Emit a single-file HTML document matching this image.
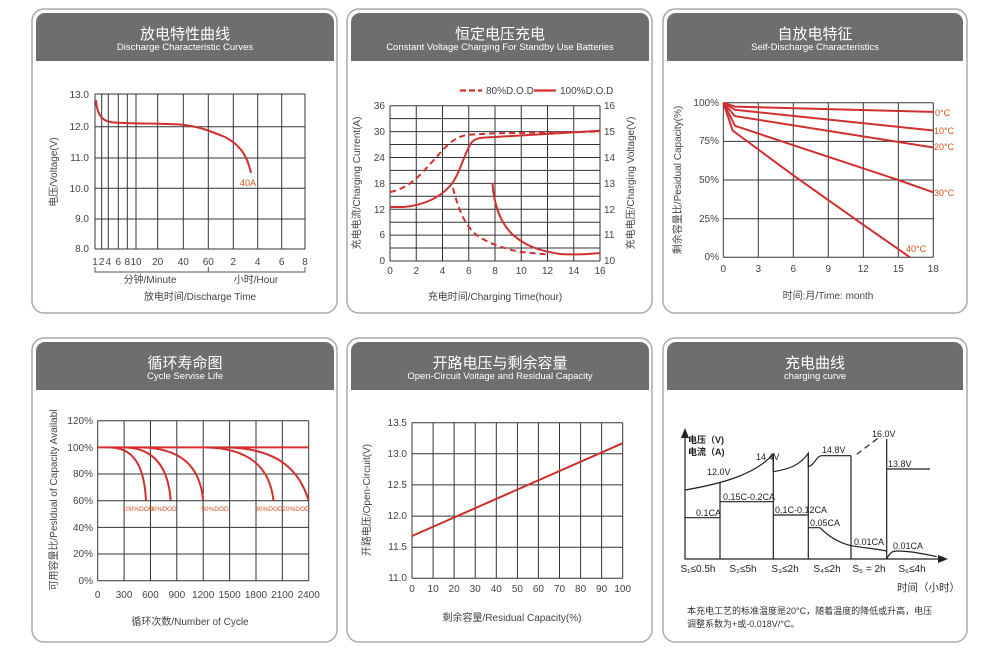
<!DOCTYPE html>
<html><head><meta charset="utf-8"><style>
html,body{margin:0;padding:0;background:#fff;}
svg{display:block;font-family:"Liberation Sans","Noto Sans CJK SC",sans-serif;}
.t{font-size:10px;fill:#444;}
.h1{font-size:15px;fill:#fff;}
.h2{font-size:9.5px;fill:#fff;}
.g line{stroke:#333;stroke-width:1;}
.g2 line{stroke:#999;stroke-width:1;}
.r{fill:none;stroke:#d03030;stroke-width:2;}
.k{fill:none;stroke:#222;stroke-width:1.2;}
.s{font-size:9px;fill:#222;}
</style></head><body>
<svg width="1000" height="664" viewBox="0 0 1000 664">
<!-- panels -->
<g fill="#fff" stroke="#aaa" stroke-width="1.5">
<rect x="32" y="9" width="305" height="304" rx="12"/>
<rect x="347" y="9" width="305" height="304" rx="12"/>
<rect x="663" y="9" width="304" height="304" rx="12"/>
<rect x="32" y="338" width="305" height="304" rx="12"/>
<rect x="347" y="338" width="305" height="304" rx="12"/>
<rect x="663" y="338" width="304" height="304" rx="12"/>
</g>
<g fill="#6e6e6e">
<path d="M36,22 a9,9 0 0 1 9,-9 H325 a9,9 0 0 1 9,9 V61 H36Z"/>
<path d="M351,22 a9,9 0 0 1 9,-9 H640 a9,9 0 0 1 9,9 V61 H351Z"/>
<path d="M667,22 a9,9 0 0 1 9,-9 H954 a9,9 0 0 1 9,9 V61 H667Z"/>
<path d="M36,351 a9,9 0 0 1 9,-9 H325 a9,9 0 0 1 9,9 V390 H36Z"/>
<path d="M351,351 a9,9 0 0 1 9,-9 H640 a9,9 0 0 1 9,9 V390 H351Z"/>
<path d="M667,351 a9,9 0 0 1 9,-9 H954 a9,9 0 0 1 9,9 V390 H667Z"/>
</g>
<g text-anchor="middle">
<text class="h1" x="185" y="39">放电特性曲线</text><text class="h2" x="185" y="50">Discharge Characteristic Curves</text>
<text class="h1" x="500" y="39">恒定电压充电</text><text class="h2" x="500" y="50">Constant Voltage Charging For Standby Use Batteries</text>
<text class="h1" x="815" y="39">自放电特征</text><text class="h2" x="815" y="50">Self-Discharge Characteristics</text>
<text class="h1" x="185" y="368">循环寿命图</text><text class="h2" x="185" y="379">Cycle Servise Life</text>
<text class="h1" x="500" y="368">开路电压与剩余容量</text><text class="h2" x="500" y="379">Open-Circuit Voitage and Residual Capacity</text>
<text class="h1" x="815" y="368">充电曲线</text><text class="h2" x="815" y="379">charging curve</text>
</g>

<!-- Panel 1 -->
<g class="g">
<line x1="95" y1="94" x2="305" y2="94"/><line x1="95" y1="126.7" x2="305" y2="126.7"/><line x1="95" y1="158" x2="305" y2="158"/><line x1="95" y1="188.3" x2="305" y2="188.3"/><line x1="95" y1="219" x2="305" y2="219"/><line x1="95" y1="249" x2="305" y2="249"/>
<line x1="95" y1="94" x2="95" y2="249"/><line x1="101.7" y1="94" x2="101.7" y2="249"/><line x1="108.3" y1="94" x2="108.3" y2="249"/><line x1="118.3" y1="94" x2="118.3" y2="249"/><line x1="127.3" y1="94" x2="127.3" y2="249"/><line x1="136" y1="94" x2="136" y2="249"/><line x1="157.7" y1="94" x2="157.7" y2="249"/><line x1="183.3" y1="94" x2="183.3" y2="249"/><line x1="208.3" y1="94" x2="208.3" y2="249"/><line x1="233.3" y1="94" x2="233.3" y2="249"/><line x1="257.7" y1="94" x2="257.7" y2="249"/><line x1="281.7" y1="94" x2="281.7" y2="249"/><line x1="305" y1="94" x2="305" y2="249"/>
</g>
<path class="r" stroke="#b83030" d="M96,100 C97,112 100,120 110,122 C120,124 170,123 185,125 C200,127 210,131 225,137 C240,145 247,155 251,173"/>
<text x="240" y="186" font-size="9" fill="#d05020">40A</text>
<g class="t" text-anchor="end"><text x="89" y="98">13.0</text><text x="89" y="130">12.0</text><text x="89" y="161">11.0</text><text x="89" y="192">10.0</text><text x="89" y="222">9.0</text><text x="89" y="252">8.0</text></g>
<g class="t" text-anchor="middle" font-size="9.5"><text x="95" y="265">1</text><text x="101.7" y="265">2</text><text x="108.3" y="265">4</text><text x="118.3" y="265">6</text><text x="127.3" y="265">8</text><text x="136" y="265">10</text><text x="157.7" y="265">20</text><text x="183.3" y="265">40</text><text x="208.3" y="265">60</text><text x="233.3" y="265">2</text><text x="257.7" y="265">4</text><text x="281.7" y="265">6</text><text x="305" y="265">8</text></g>
<path d="M95,267 V272 H305 V267 M208.3,267 V272" fill="none" stroke="#555"/>
<text class="t" x="150" y="283" text-anchor="middle" font-size="9.5">分钟/Minute</text>
<text class="t" x="256" y="283" text-anchor="middle" font-size="9.5">小时/Hour</text>
<text class="t" x="200" y="300" text-anchor="middle">放电时间/Discharge Time</text>
<text class="t" transform="translate(57,172) rotate(-90)" text-anchor="middle" font-size="9.5">电压/Voltage(V)</text>

<!-- Panel 2 -->
<g class="g">
<line x1="390" y1="105.7" x2="600" y2="105.7"/><line x1="390" y1="118.6" x2="600" y2="118.6"/><line x1="390" y1="131.6" x2="600" y2="131.6"/><line x1="390" y1="144.5" x2="600" y2="144.5"/><line x1="390" y1="157.5" x2="600" y2="157.5"/><line x1="390" y1="170.4" x2="600" y2="170.4"/><line x1="390" y1="183.4" x2="600" y2="183.4"/><line x1="390" y1="196.3" x2="600" y2="196.3"/><line x1="390" y1="209.2" x2="600" y2="209.2"/><line x1="390" y1="222.2" x2="600" y2="222.2"/><line x1="390" y1="235.1" x2="600" y2="235.1"/><line x1="390" y1="248" x2="600" y2="248"/><line x1="390" y1="261" x2="600" y2="261"/>
<line x1="390" y1="105.7" x2="390" y2="261"/><line x1="416.25" y1="105.7" x2="416.25" y2="261"/><line x1="442.5" y1="105.7" x2="442.5" y2="261"/><line x1="468.75" y1="105.7" x2="468.75" y2="261"/><line x1="495" y1="105.7" x2="495" y2="261"/><line x1="521.25" y1="105.7" x2="521.25" y2="261"/><line x1="547.5" y1="105.7" x2="547.5" y2="261"/><line x1="573.75" y1="105.7" x2="573.75" y2="261"/><line x1="600" y1="105.7" x2="600" y2="261"/>
</g>
<path class="r" stroke-dasharray="6,4" d="M390,192 C410,188 420,175 432,162 S452,137 468,134.8 L495,133.3 L600,131.6"/>
<path class="r" d="M390,207 L404,207 C425,205 440,197 450,186 C460,175 465,150 472,142 C476,138 480,137.5 495,137 L600,130.7"/>
<path class="r" stroke-dasharray="6,4" d="M453,188 C458,208 465,227 478,236 C490,244 505,249 521,252 L548,254.5"/>
<path class="r" d="M492.4,183 C494,205 500,222 512,234 C525,246 540,251 560,254 C575,255 590,254 600,253"/>
<line x1="460" y1="90.5" x2="482" y2="90.5" stroke="#d03030" stroke-width="2.2" stroke-dasharray="6,3"/>
<text class="t" x="486" y="94" font-size="9">80%D.O.D</text>
<line x1="534" y1="90.5" x2="556" y2="90.5" stroke="#d03030" stroke-width="2.2"/>
<text class="t" x="560" y="94" font-size="9">100%D.O.D</text>
<g class="t" text-anchor="end" font-size="9.5"><text x="385" y="109">36</text><text x="385" y="135">30</text><text x="385" y="161">24</text><text x="385" y="187">18</text><text x="385" y="213">12</text><text x="385" y="238">6</text><text x="385" y="264">0</text></g>
<g class="t" font-size="9.5"><text x="604" y="109">16</text><text x="604" y="135">15</text><text x="604" y="161">14</text><text x="604" y="187">13</text><text x="604" y="213">12</text><text x="604" y="238">11</text><text x="604" y="264">10</text></g>
<g class="t" text-anchor="middle" font-size="9.5"><text x="390" y="274">0</text><text x="416.25" y="274">2</text><text x="442.5" y="274">4</text><text x="468.75" y="274">6</text><text x="495" y="274">8</text><text x="521.25" y="274">10</text><text x="547.5" y="274">12</text><text x="573.75" y="274">14</text><text x="600" y="274">16</text></g>
<text class="t" x="495" y="300" text-anchor="middle" font-size="9.5">充电时间/Charging Time(hour)</text>
<text class="t" transform="translate(360,183) rotate(-90)" text-anchor="middle" font-size="9.5">充电电流/Charging Current(A)</text>
<text class="t" transform="translate(634,183) rotate(-90)" text-anchor="middle" font-size="9.5">充电电压/Charging Voltage(V)</text>

<!-- Panel 3 -->
<g class="g">
<line x1="723.3" y1="102.7" x2="933.3" y2="102.7"/><line x1="723.3" y1="141.4" x2="933.3" y2="141.4"/><line x1="723.3" y1="180" x2="933.3" y2="180"/><line x1="723.3" y1="218.7" x2="933.3" y2="218.7"/><line x1="723.3" y1="257.3" x2="933.3" y2="257.3"/>
<line x1="723.3" y1="102.7" x2="723.3" y2="257.3"/><line x1="758.3" y1="102.7" x2="758.3" y2="257.3"/><line x1="793.3" y1="102.7" x2="793.3" y2="257.3"/><line x1="828.3" y1="102.7" x2="828.3" y2="257.3"/><line x1="863.3" y1="102.7" x2="863.3" y2="257.3"/><line x1="898.3" y1="102.7" x2="898.3" y2="257.3"/><line x1="933.3" y1="102.7" x2="933.3" y2="257.3"/>
</g>
<g class="r" stroke="#d83030">
<polyline points="723.3,102.7 735,106.6 933.3,111.9"/>
<polyline points="723.3,102.7 735,109.8 933.3,130.5"/>
<polyline points="723.3,102.7 735,116.1 933.3,147.5"/>
<polyline points="723.3,102.7 735,125.8 828.3,156.8 898.3,180 933.3,192.3"/>
<polyline points="723.3,102.7 732.6,130.5 793.3,175.3 863.3,224.8 910,257.3"/>
</g>
<g font-size="9" fill="#d05020"><text x="935" y="116">0°C</text><text x="934" y="134">10°C</text><text x="934" y="150">20°C</text><text x="934" y="196">30°C</text><text x="906" y="252">40°C</text></g>
<g class="t" text-anchor="end" font-size="9"><text x="719" y="106">100%</text><text x="719" y="144">75%</text><text x="719" y="183">50%</text><text x="719" y="222">25%</text><text x="719" y="260">0%</text></g>
<g class="t" text-anchor="middle" font-size="9.5"><text x="723.3" y="272">0</text><text x="758.3" y="272">3</text><text x="793.3" y="272">6</text><text x="828.3" y="272">9</text><text x="863.3" y="272">12</text><text x="898.3" y="272">15</text><text x="933.3" y="272">18</text></g>
<text class="t" x="828" y="299" text-anchor="middle" font-size="9.5">时间:月/Time: month</text>
<text class="t" transform="translate(681,180) rotate(-90)" text-anchor="middle" font-size="9.5">剩余容量比/Pesidual Capacity(%)</text>

<!-- Panel 4 -->
<g class="g">
<line x1="97.7" y1="420.7" x2="308.7" y2="420.7"/><line x1="97.7" y1="447.4" x2="308.7" y2="447.4"/><line x1="97.7" y1="474" x2="308.7" y2="474"/><line x1="97.7" y1="500.7" x2="308.7" y2="500.7"/><line x1="97.7" y1="527.4" x2="308.7" y2="527.4"/><line x1="97.7" y1="554" x2="308.7" y2="554"/><line x1="97.7" y1="580.7" x2="308.7" y2="580.7"/>
<line x1="97.7" y1="420.7" x2="97.7" y2="580.7"/><line x1="124.1" y1="420.7" x2="124.1" y2="580.7"/><line x1="150.45" y1="420.7" x2="150.45" y2="580.7"/><line x1="176.8" y1="420.7" x2="176.8" y2="580.7"/><line x1="203.2" y1="420.7" x2="203.2" y2="580.7"/><line x1="229.6" y1="420.7" x2="229.6" y2="580.7"/><line x1="256" y1="420.7" x2="256" y2="580.7"/><line x1="282.3" y1="420.7" x2="282.3" y2="580.7"/><line x1="308.7" y1="420.7" x2="308.7" y2="580.7"/>
</g>
<line x1="97.7" y1="447.4" x2="308.7" y2="447.4" stroke="#d83030" stroke-width="2"/>
<g class="r" stroke="#c03030">
<path d="M110,447.4 C130,448 144,460 146,500.7"/>
<path d="M125,447.4 C150,448 168,462 170.7,500.7"/>
<path d="M140,447.4 C180,448 200,465 203.2,500.7"/>
<path d="M205,447.4 C250,448 270,468 273.5,500.7"/>
<path d="M225,447.4 C280,448 300,472 308.7,500.7"/>
</g>
<g font-size="6.5" fill="#d05020" text-anchor="middle"><text x="138" y="511">100%DOD</text><text x="163" y="511">80%DOD</text><text x="215" y="511">50%DOD</text><text x="269" y="511">30%DOD</text><text x="296" y="511">20%DOD</text></g>
<g class="t" text-anchor="end" font-size="9"><text x="93" y="424">120%</text><text x="93" y="451">100%</text><text x="93" y="477">80%</text><text x="93" y="504">60%</text><text x="93" y="531">40%</text><text x="93" y="557">20%</text><text x="93" y="584">0%</text></g>
<g class="t" text-anchor="middle" font-size="9.5"><text x="97.7" y="598">0</text><text x="124.1" y="598">300</text><text x="150.45" y="598">600</text><text x="176.8" y="598">900</text><text x="203.2" y="598">1200</text><text x="229.6" y="598">1500</text><text x="256" y="598">1800</text><text x="282.3" y="598">2100</text><text x="308.7" y="598">2400</text></g>
<text class="t" x="190" y="625" text-anchor="middle" font-size="9.5">循环次数/Number of Cycle</text>
<text class="t" transform="translate(57,500) rotate(-90)" text-anchor="middle" font-size="9.5">可用容量比/Pesldual of Capacity Availabl</text>

<!-- Panel 5 -->
<g class="g">
<line x1="412" y1="422.7" x2="622.7" y2="422.7"/><line x1="412" y1="453.8" x2="622.7" y2="453.8"/><line x1="412" y1="484.9" x2="622.7" y2="484.9"/><line x1="412" y1="516.1" x2="622.7" y2="516.1"/><line x1="412" y1="547.2" x2="622.7" y2="547.2"/><line x1="412" y1="578.3" x2="622.7" y2="578.3"/>
<line x1="412" y1="422.7" x2="412" y2="578.3"/><line x1="433.1" y1="422.7" x2="433.1" y2="578.3"/><line x1="454.1" y1="422.7" x2="454.1" y2="578.3"/><line x1="475.2" y1="422.7" x2="475.2" y2="578.3"/><line x1="496.3" y1="422.7" x2="496.3" y2="578.3"/><line x1="517.4" y1="422.7" x2="517.4" y2="578.3"/><line x1="538.4" y1="422.7" x2="538.4" y2="578.3"/><line x1="559.5" y1="422.7" x2="559.5" y2="578.3"/><line x1="580.6" y1="422.7" x2="580.6" y2="578.3"/><line x1="601.6" y1="422.7" x2="601.6" y2="578.3"/><line x1="622.7" y1="422.7" x2="622.7" y2="578.3"/>
</g>
<line x1="412" y1="536" x2="622.7" y2="443.2" stroke="#c83028" stroke-width="2"/>
<g class="t" text-anchor="end" font-size="9"><text x="407" y="426">13.5</text><text x="407" y="457">13.0</text><text x="407" y="488">12.5</text><text x="407" y="519">12.0</text><text x="407" y="550">11.5</text><text x="407" y="581">11.0</text></g>
<g class="t" text-anchor="middle" font-size="9.5"><text x="412" y="592">0</text><text x="433.1" y="592">10</text><text x="454.1" y="592">20</text><text x="475.2" y="592">30</text><text x="496.3" y="592">40</text><text x="517.4" y="592">50</text><text x="538.4" y="592">60</text><text x="559.5" y="592">70</text><text x="580.6" y="592">80</text><text x="601.6" y="592">90</text><text x="622.7" y="592">100</text></g>
<text class="t" x="512" y="621" text-anchor="middle" font-size="9.5">剩余容量/Residual Capacity(%)</text>
<text class="t" transform="translate(370,500) rotate(-90)" text-anchor="middle" font-size="9.5">开路电压/Open-Circuit(V)</text>

<!-- Panel 6 -->
<path d="M685,432 V559 H940" class="k" stroke-width="1.6"/>
<path d="M681,438 L685,428 L689,438Z M938,555 L948,559 L938,563Z" fill="#222"/>
<g class="k">
<line x1="720" y1="482" x2="720" y2="559"/><line x1="773.3" y1="455" x2="773.3" y2="559"/><line x1="808.3" y1="453" x2="808.3" y2="559"/><line x1="851" y1="455.7" x2="851" y2="559"/><line x1="886.7" y1="439" x2="886.7" y2="559"/>
<path d="M685,490 C720,484 755,475 773.3,454 V471.7 C790,469 800,465 808.3,453.3 V466.7 C815,465 816,456 821.7,455.7 H851"/>
<path d="M856.7,454.3 L880,436.7" stroke-dasharray="6,4"/>
<path d="M886.7,469 H930"/>
<path d="M685,517.7 H720 M720,501.7 H773.3 M773.3,515 H808.3 M808.3,527.7 H820 C830,538 840,543 851,545.7 C865,548 878,549 886.7,551 M886.7,559 C890,552 893,551 897,551 C910,551 925,554 936.7,556.7"/>
</g>
<g class="s">
<text x="688" y="443" font-weight="bold">电压（V)</text><text x="688" y="455" font-weight="bold">电流（A)</text>
<text x="707" y="475">12.0V</text><text x="756" y="460">14.4V</text><text x="822" y="453">14.8V</text><text x="872" y="437">16.0V</text><text x="888" y="467">13.8V</text>
<text x="696" y="516">0.1CA</text><text x="723" y="500">0.15C-0.2CA</text><text x="775" y="513">0.1C-0.12CA</text><text x="810" y="526">0.05CA</text><text x="854" y="545">0.01CA</text><text x="893" y="549">0.01CA</text>
</g>
<g font-size="10" fill="#222" text-anchor="middle"><text x="698" y="572">S₁≤0.5h</text><text x="743" y="572">S₂≤5h</text><text x="785" y="572">S₃≤2h</text><text x="827" y="572">S₄≤2h</text><text x="869" y="572">S₅ = 2h</text><text x="912" y="572">S₆≤4h</text></g>
<text x="897" y="591" font-size="10.5" fill="#333">时间（小时）</text>
<text x="687" y="614" font-size="9" fill="#333">本充电工艺的标准温度是20°C，随着温度的降低或升高，电压</text>
<text x="687" y="627" font-size="9" fill="#333">调整系数为+或-0.018V/°C。</text>
</svg>
</body></html>
